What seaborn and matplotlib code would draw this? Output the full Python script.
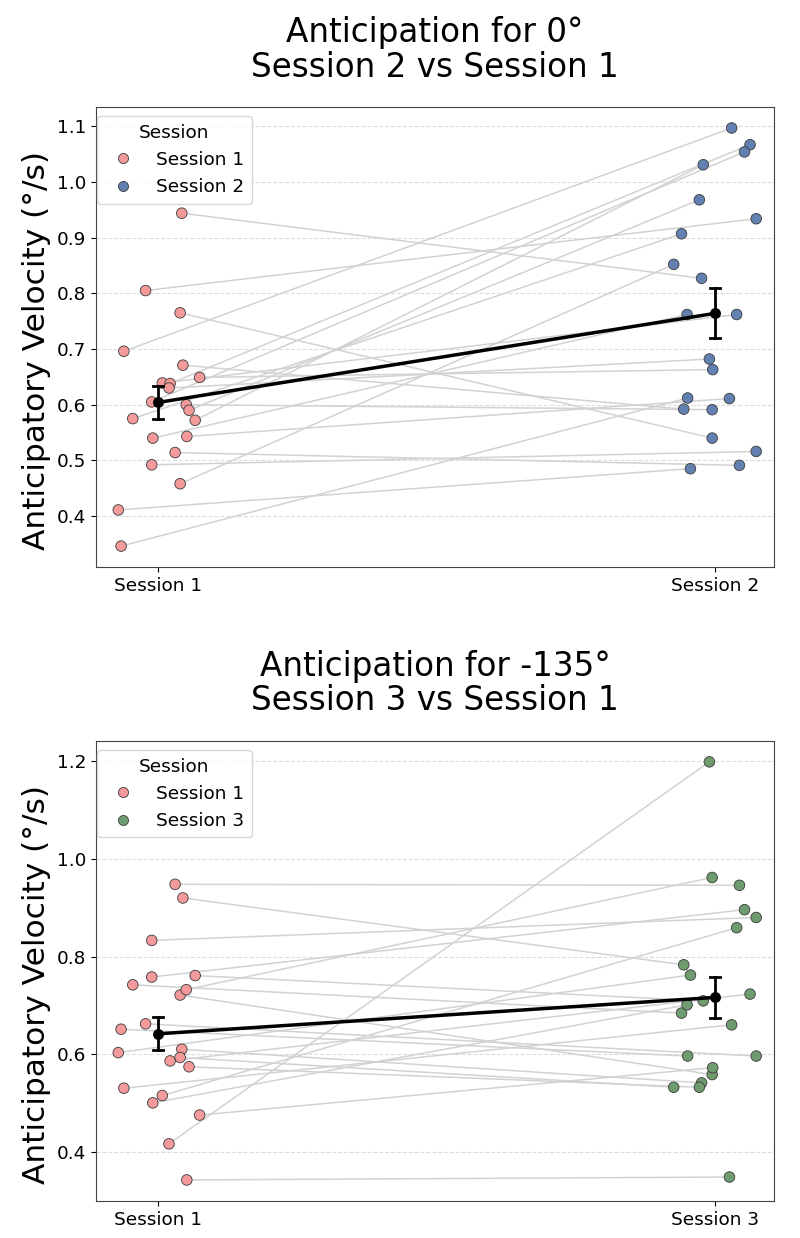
import numpy as np
import pandas as pd
import matplotlib
matplotlib.use("Agg")
import matplotlib.pyplot as plt
import seaborn as sns

# per-subject values (same subject order in every list)
top_s1 = [0.944, 0.805, 0.765, 0.696, 0.671, 0.649, 0.639, 0.638, 0.630, 0.605, 0.600,
          0.590, 0.575, 0.572, 0.540, 0.543, 0.514, 0.492, 0.458, 0.411, 0.346]
top_s2 = [0.827, 0.934, 0.540, 1.097, 0.592, 0.663, 0.762, 1.067, 0.682, 1.054, 0.591,
          0.968, 0.907, 1.031, 0.762, 0.611, 0.491, 0.516, 0.852, 0.485, 0.612]

bot_s1 = [0.610, 0.662, 0.721, 0.530, 0.920, 0.475, 0.515, 0.586, 0.416, 0.758, 0.732,
          0.574, 0.742, 0.761, 0.500, 0.342, 0.948, 0.833, 0.593, 0.603, 0.651]
bot_s3 = [0.541, 0.596, 0.558, 0.660, 0.783, 0.572, 0.859, 0.723, 1.199, 0.896, 0.962,
          0.532, 0.684, 0.709, 0.701, 0.348, 0.946, 0.880, 0.532, 0.762, 0.596]

# horizontal jitter of each subject (category units)
jit_first = [0.043, -0.022, 0.040, -0.061, 0.045, 0.075, 0.008, 0.022, 0.020, -0.011, 0.051,
             0.056, -0.045, 0.067, -0.009, 0.052, 0.031, -0.011, 0.040, -0.071, -0.066]
jit_second = [-0.024, 0.074, -0.005, 0.030, -0.056, -0.004, 0.039, 0.063, -0.010, 0.053, -0.005,
              -0.028, -0.060, -0.021, -0.050, 0.026, 0.044, 0.074, -0.074, -0.044, -0.049]

colors = {
    "Session 1": "#F49A9A",
    "Session 2": "#6381B0",
    "Session 3": "#6F9C6F",
}

panels = [
    ("Anticipation for 0°\nSession 2 vs Session 1", "Session 2", top_s1, top_s2),
    ("Anticipation for -135°\nSession 3 vs Session 1", "Session 3", bot_s1, bot_s3),
]

fig = plt.figure(figsize=(8, 12.38), dpi=100)
axes = [fig.add_axes([0.12, 0.542, 0.8475, 0.3715]),
        fig.add_axes([0.12, 0.030, 0.8475, 0.3715])]

for ax, (title, other, first, second) in zip(axes, panels):
    n = len(first)
    df = pd.DataFrame({
        "Subject": list(range(n)) * 2,
        "Session": ["Session 1"] * n + [other] * n,
        "Velocity": first + second,
        "pos": [0 + j for j in jit_first] + [1 + j for j in jit_second],
    })

    # paired lines
    for i in range(n):
        ax.plot([jit_first[i], 1 + jit_second[i]], [first[i], second[i]],
                color="#d2d2d2", lw=1.1, zorder=1)

    sns.scatterplot(data=df, x="pos", y="Velocity", hue="Session",
                    palette=colors, s=58, edgecolor="#3a3a3a", linewidth=0.6,
                    zorder=3, ax=ax)

    n_lines = len(ax.lines)
    n_coll = len(ax.collections)
    sns.pointplot(data=df, x="Session", y="Velocity", order=["Session 1", other],
                  errorbar="se", color="black", capsize=0.017, markersize=6,
                  linewidth=2.5, err_kws={"linewidth": 2}, ax=ax)
    for ln in ax.lines[n_lines:]:
        ln.set_zorder(5)
    for c in ax.collections[n_coll:]:
        c.set_zorder(6)

    ax.set_xlim(-0.111, 1.106)
    ax.set_xticks([0, 1])
    ax.set_xticklabels(["Session 1", other], fontsize=13.3)
    ax.tick_params(axis="y", labelsize=13.3)
    ax.set_xlabel("")
    ax.set_ylabel("Anticipatory Velocity (°/s)", fontsize=22.5)
    ax.yaxis.label.set_y(0.47)
    ax.set_title(title, fontsize=23.5, pad=22, linespacing=1.05)
    ax.grid(axis="y", linestyle="--", color="#dddddd", lw=0.8)
    ax.grid(axis="x", visible=False)
    ax.set_axisbelow(True)
    for sp in ax.spines.values():
        sp.set_color("#444444")

    leg = ax.legend(title="Session", loc="upper left", bbox_to_anchor=(-0.012, 1.0),
                    fontsize=13.3, title_fontsize=13.3, markerscale=0.95)

axes[1].set_yticks([0.4, 0.6, 0.8, 1.0, 1.2])

fig.savefig("out.png", dpi=100)
